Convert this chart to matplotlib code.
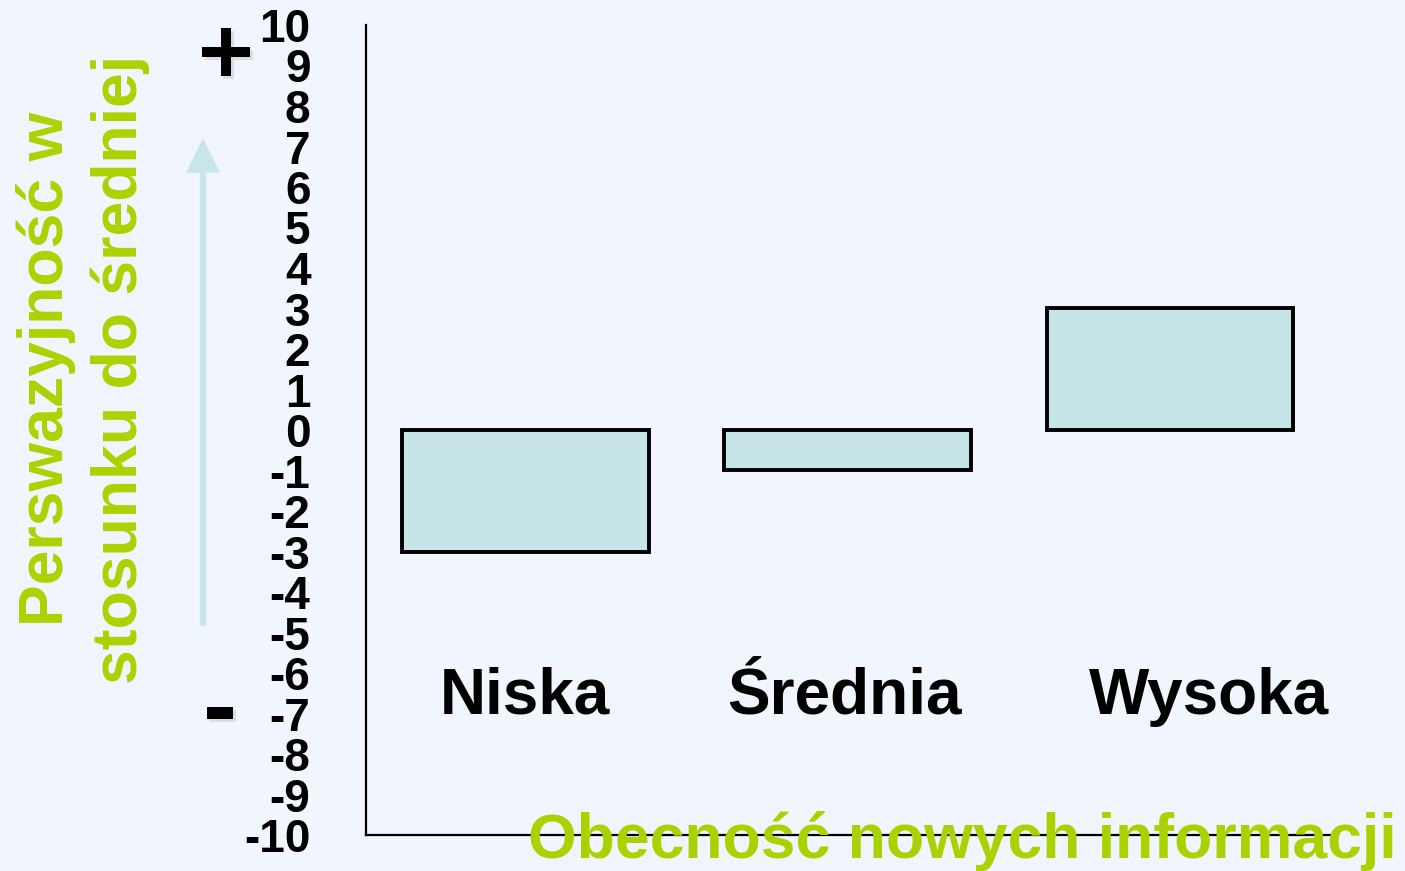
import matplotlib

matplotlib.use("Agg")
import matplotlib.pyplot as plt
import matplotlib.patheffects as pe
from matplotlib.patches import FancyArrow

# chart data
categories = ["Niska", "Średnia", "Wysoka"]
bar_bottoms = [0, 0, 0]
bar_tops = [-3, -1, 3]
y_ticks = list(range(-10, 11))
x_label = "Obecność nowych informacji"
y_label_lines = ["Perswazyjność w", "stosunku do średniej"]

# layout / style
label_shift = [0.0, -0.01, 0.12]
BG = "#f0f5fe"
GREEN = "#a9d300"
FILL = "#c7e5e8"
ARROW = "#c8e6e9"
W, H = 1405, 871

plt.rcParams["font.family"] = ["Liberation Sans", "DejaVu Sans"]

fig = plt.figure(figsize=(W / 100, H / 100), dpi=100, facecolor=BG)
ax = fig.add_axes([366 / W, 1 - 835 / H, (1333 - 366) / W, 810 / H])
ax.set_facecolor(BG)

xs = list(range(len(categories)))
heights = [t - b for t, b in zip(bar_tops, bar_bottoms)]
ax.bar(xs, heights, bottom=bar_bottoms, width=0.765, color=FILL,
       edgecolor="black", linewidth=2.8, zorder=2)

for x, name, dx in zip(xs, categories, label_shift):
    ax.text(x + dx, -7, name, ha="center", va="baseline",
            fontsize=46, fontweight="bold", color="black")

ax.set_xlim(-0.494, 2.506)
ax.set_ylim(-10, 10)
ax.set_xticks([])
ax.set_yticks(y_ticks)
ax.set_yticklabels([str(v) for v in y_ticks], fontsize=33, fontweight="bold")
ax.tick_params(axis="y", length=0, pad=40)
for side in ("top", "right"):
    ax.spines[side].set_visible(False)
for side in ("left", "bottom"):
    ax.spines[side].set_linewidth(1.6)
    ax.spines[side].set_color("black")

# axis titles
fig.text(1397 / W, 1 - 858 / H, x_label, ha="right", va="baseline",
         fontsize=45, fontweight="bold", color=GREEN, zorder=5)
for bx, text in zip([63, 137], y_label_lines):
    fig.text(bx / W, 1 - 369 / H, text, rotation=90, rotation_mode="anchor",
             ha="center", va="baseline", fontsize=45, fontweight="bold",
             color=GREEN)

# direction arrow and +/- markers
fig.add_artist(FancyArrow(2.03, (H - 625) / 100, 0, (625 - 140) / 100,
                          width=0.05, head_width=0.32, head_length=0.32,
                          length_includes_head=True, color=ARROW,
                          transform=fig.dpi_scale_trans))
shadow = [pe.SimplePatchShadow(offset=(2, -2), shadow_rgbFace="gray", alpha=0.2),
          pe.Normal()]
fig.text(226 / W, 1 - 84 / H, "+", ha="center", va="baseline", fontsize=69,
         fontweight="bold", color="black", path_effects=shadow)
fig.text(220 / W, 1 - 740 / H, "-", ha="center", va="baseline", fontsize=75,
         fontweight="bold", color="black", path_effects=shadow)

fig.savefig("out.png", dpi=100, facecolor=BG)
